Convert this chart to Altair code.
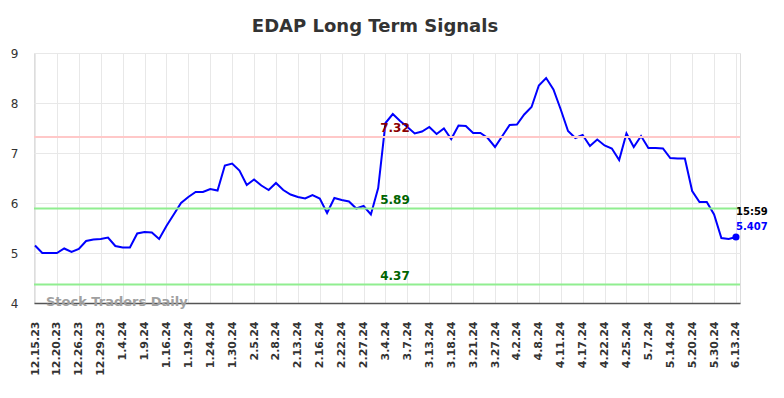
import altair as alt
import pandas as pd

tick_labels = ["12.15.23", "12.20.23", "12.26.23", "12.29.23", "1.4.24", "1.9.24",
               "1.16.24", "1.19.24", "1.24.24", "1.30.24", "2.5.24", "2.8.24",
               "2.13.24", "2.16.24", "2.22.24", "2.27.24", "3.4.24", "3.7.24",
               "3.13.24", "3.18.24", "3.21.24", "3.27.24", "4.2.24", "4.8.24",
               "4.11.24", "4.17.24", "4.22.24", "4.25.24", "5.7.24", "5.14.24",
               "5.20.24", "5.30.24", "6.13.24"]

prices = [5.15, 5.00, 5.00, 5.00, 5.09, 5.02, 5.08, 5.24, 5.27, 5.28,
          5.31, 5.14, 5.11, 5.11, 5.39, 5.42, 5.41, 5.28, 5.54, 5.77,
          6.00, 6.12, 6.22, 6.22, 6.28, 6.25, 6.75, 6.79, 6.65, 6.36,
          6.47, 6.35, 6.26, 6.40, 6.26, 6.17, 6.12, 6.09, 6.16, 6.09,
          5.80, 6.10, 6.06, 6.03, 5.89, 5.94, 5.77, 6.30, 7.60, 7.78,
          7.64, 7.52, 7.39, 7.43, 7.52, 7.38, 7.49, 7.28, 7.55, 7.54,
          7.40, 7.40, 7.30, 7.12, 7.34, 7.56, 7.57, 7.77, 7.92, 8.35,
          8.50, 8.27, 7.87, 7.44, 7.30, 7.36, 7.14, 7.27, 7.15, 7.09,
          6.86, 7.39, 7.12, 7.34, 7.10, 7.10, 7.09, 6.90, 6.89, 6.89,
          6.24, 6.02, 6.02, 5.77, 5.30, 5.28, 5.32]

level_values = [7.32, 5.89, 4.37]
level_labels = ["7.32", "5.89", "4.37"]
level_line_colors = ["#ffc8c8", "#90ee90", "#90ee90"]
level_text_colors = ["#8b0000", "#006400", "#006400"]

last_time = "15:59"
last_price_label = "5.407"
watermark = "Stock Traders Daily"

step = 3
n = len(prices)
df = pd.DataFrame({"idx": list(range(n)), "price": prices})
levels = pd.DataFrame({"value": level_values, "label": level_labels,
                       "lc": level_line_colors, "tc": level_text_colors,
                       "idx": [49.3] * 3})
last = pd.DataFrame({"idx": [n - 1], "price": [prices[-1]],
                     "t": [last_time], "p": [last_price_label]})
wm = pd.DataFrame({"idx": [1.5], "price": [4.0], "t": [watermark]})

label_array = "[" + ",".join("'%s'" % s for s in tick_labels) + "]"
xscale = alt.Scale(domain=[-0.137, 96.55], nice=False, zero=False)
yscale = alt.Scale(domain=[4, 9], nice=False, zero=False)

x_axis = alt.Axis(values=list(range(0, n, step)),
                  labelExpr=label_array + "[round(datum.value/%d)]" % step,
                  labelAngle=-90, labelFont="DejaVu Sans", labelFontSize=11,
                  labelFontWeight="bold", labelColor="#333333", labelPadding=18,
                  ticks=False, domain=True, domainColor="#555555", domainWidth=1.5,
                  grid=True, gridColor="#e8e8e8", gridWidth=1, title=None,
                  labelOverlap=False, labelBound=False, labelFlush=False)
y_axis = alt.Axis(values=[4, 5, 6, 7, 8, 9], labelFont="DejaVu Sans", labelFontSize=12,
                  labelColor="#333333", labelPadding=16, ticks=False, domain=False,
                  grid=True, gridColor="#e8e8e8", gridWidth=1, title=None,
                  labelOverlap=False)


def X(field="idx:Q"):
    return alt.X(field, scale=xscale, axis=x_axis)


def Y(field="price:Q"):
    return alt.Y(field, scale=yscale, axis=y_axis)


line = alt.Chart(df).mark_line(color="#0000ff", strokeWidth=2).encode(x=X(), y=Y())

rules = alt.Chart(levels).mark_rule(strokeWidth=2).encode(
    y=Y("value:Q"), color=alt.Color("lc:N", scale=None))

level_text = alt.Chart(levels).mark_text(
    font="DejaVu Sans", fontSize=12, fontWeight="bold", baseline="bottom",
    align="center", dy=-2).encode(
    x=X(), y=Y("value:Q"), text="label:N", color=alt.Color("tc:N", scale=None))

wm_text = alt.Chart(wm).mark_text(
    font="DejaVu Sans", fontSize=13, fontWeight="bold", color="#a0a0a0",
    align="left", baseline="middle", dy=-1.5).encode(x=X(), y=Y(), text="t:N")

dot = alt.Chart(last).mark_circle(color="#0000ff", size=50, opacity=1).encode(x=X(), y=Y())

t1 = alt.Chart(last).mark_text(
    font="DejaVu Sans", fontSize=10, fontWeight="bold", color="#000000",
    align="left", baseline="middle", dy=-25).encode(x=X(), y=Y(), text="t:N")

t2 = alt.Chart(last).mark_text(
    font="DejaVu Sans", fontSize=10, fontWeight="bold", color="#0000ff",
    align="left", baseline="middle", dy=-10).encode(x=X(), y=Y(), text="p:N")

chart = alt.layer(line, wm_text, rules, level_text, dot, t1, t2).properties(
    width=706, height=250,
    title=alt.TitleParams("EDAP Long Term Signals", font="DejaVu Sans", fontSize=18,
                          fontWeight="bold", color="#333333", anchor="middle",
                          dx=-12, offset=11),
    autosize=alt.AutoSizeParams(type="none"),
    padding={"left": 26, "top": 45, "right": 30, "bottom": 82},
).configure_view(stroke=None).configure_axisX(labelOverlap=False).configure(background="white")

chart.save("out.html", embed_options={"renderer": "svg", "actions": False})
